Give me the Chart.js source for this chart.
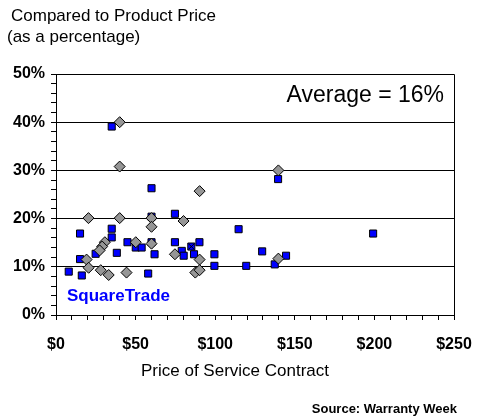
<!DOCTYPE html>
<html>
<head>
<meta charset="utf-8">
<script src="https://cdn.jsdelivr.net/npm/chart.js"></script>
<style>
  html, body { margin: 0; padding: 0; background: #fff; }
  #wrap { width: 480px; height: 420px; position: relative; }
</style>
</head>
<body>
<div id="wrap"><canvas id="warrantyChart"></canvas></div>
<script>
// Service contract price ($) vs. price as % of product price
const squarePrice = [35, 60, 60, 74.7, 15.1, 35, 35, 44.9, 50.1, 53.8, 60, 61.9, 38.2, 24.9, 15.1, 8, 16.2, 57.9,
  74.7, 79, 80.2, 85, 86.7, 90.1, 99.5, 99.5, 114.7, 119.5, 129.5, 139.5, 137.4, 144.5, 199.2];
const squarePct = [39.1, 26.3, 20.4, 21.0, 16.9, 17.9, 16.1, 15.1, 14.0, 14.0, 15.1, 12.6, 12.9, 12.7, 11.6, 9.0, 8.2, 8.6,
  15.1, 13.3, 12.3, 14.2, 12.6, 15.1, 12.6, 10.2, 17.8, 10.2, 13.2, 28.2, 10.5, 12.3, 16.9];

const diamondPrice = [40, 40, 90.2, 20.4, 40, 60, 80.1, 60, 30.7, 29, 27.4, 50.1, 60, 74.7, 90.2, 19.2, 20.5, 28.1,
  33.1, 44.3, 87.5, 90.2, 139.7, 139.7];
const diamondPct = [40.0, 30.8, 25.7, 20.1, 20.1, 20.1, 19.5, 18.3, 15.1, 14.2, 13.4, 15.1, 14.8, 12.6, 11.5, 11.5, 9.8, 9.3,
  8.3, 8.8, 8.8, 9.3, 30.0, 11.7];

const crossPrice = [85];
const crossPct = [14.2];

const xTickLabels = ['$0', '$50', '$100', '$150', '$200', '$250'];
const yTickLabels = ['0%', '10%', '20%', '30%', '40%', '50%'];

function toPoints(xs, ys) {
  return xs.map((x, i) => ({ x: x, y: ys[i] }));
}

// fixed texts + plot frame
const extraText = {
  id: 'extraText',
  afterDraw(chart) {
    const ctx = chart.ctx;
    const a = chart.chartArea;
    ctx.save();
    ctx.strokeStyle = '#000';
    ctx.lineWidth = 1;
    ctx.beginPath();
    ctx.moveTo(a.left, a.top + 0.5);
    ctx.lineTo(a.right + 0.5, a.top + 0.5);
    ctx.lineTo(a.right + 0.5, a.bottom);
    ctx.stroke();

    ctx.fillStyle = '#000';
    ctx.textBaseline = 'middle';
    ctx.textAlign = 'left';
    ctx.font = '17px "Liberation Sans", Arial, sans-serif';
    ctx.fillText('Compared to Product Price', 11, 16);
    ctx.fillText('(as a percentage)', 7, 37);

    ctx.textAlign = 'center';
    ctx.fillText('Price of Service Contract', 235, 371);

    ctx.textAlign = 'right';
    ctx.font = 'bold 13px "Liberation Sans", Arial, sans-serif';
    ctx.fillText('Source: Warranty Week', 457, 409);

    ctx.font = '23px "Liberation Sans", Arial, sans-serif';
    ctx.fillText('Average = 16%', 444, 96);

    ctx.textAlign = 'left';
    ctx.fillStyle = '#0000ff';
    ctx.font = 'bold 17px "Liberation Sans", Arial, sans-serif';
    ctx.fillText('SquareTrade', 67, 296);
    ctx.restore();
  }
};

const ctx = document.getElementById('warrantyChart').getContext('2d');
new Chart(ctx, {
  type: 'scatter',
  data: {
    datasets: [
      {
        label: 'Marked',
        data: toPoints(crossPrice, crossPct),
        pointStyle: 'crossRot',
        pointRadius: 4,
        borderColor: '#000',
        borderWidth: 1
      },
      {
        label: 'Others',
        data: toPoints(diamondPrice, diamondPct),
        pointStyle: 'rectRot',
        pointRadius: 5.5,
        backgroundColor: '#969696',
        borderColor: '#000',
        borderWidth: 1
      },
      {
        label: 'SquareTrade',
        data: toPoints(squarePrice, squarePct),
        pointStyle: 'rect',
        pointRadius: 5,
        backgroundColor: '#0000ff',
        borderColor: '#000',
        borderWidth: 1
      }
    ]
  },
  options: {
    responsive: true,
    maintainAspectRatio: false,
    animation: false,
    events: [],
    layout: { padding: { top: 74, right: 26, left: 0, bottom: 0 } },
    plugins: {
      legend: { display: false },
      tooltip: { enabled: false }
    },
    scales: {
      x: {
        type: 'linear',
        min: 0,
        max: 250,
        afterFit(scale) {
          scale.height = 105;
          scale.paddingLeft = 0;
          scale.paddingRight = 0;
        },
        border: { color: '#000', width: 1 },
        grid: { drawOnChartArea: false, color: '#000', tickColor: '#000', tickLength: 5 },
        ticks: {
          stepSize: 10,
          autoSkip: false,
          maxRotation: 0,
          padding: 15,
          color: '#000',
          font: { family: '"Liberation Sans", Arial, sans-serif', size: 16, weight: 'bold' },
          callback: v => (Math.round(v) % 50 === 0 ? xTickLabels[Math.round(v) / 50] : '')
        }
      },
      y: {
        type: 'linear',
        min: 0,
        max: 50,
        afterFit(scale) { scale.width = 56; },
        border: { color: '#000', width: 1 },
        grid: {
          color: c => (Math.round(c.tick.value) % 10 === 0 ? '#000' : 'rgba(0,0,0,0)'),
          tickColor: '#000',
          tickLength: 5
        },
        ticks: {
          stepSize: 2,
          autoSkip: false,
          padding: 6,
          color: '#000',
          font: { family: '"Liberation Sans", Arial, sans-serif', size: 16, weight: 'bold' },
          callback: v => (Math.round(v) % 10 === 0 ? yTickLabels[Math.round(v) / 10] : '')
        }
      }
    }
  },
  plugins: [extraText]
});
</script>
</body>
</html>
